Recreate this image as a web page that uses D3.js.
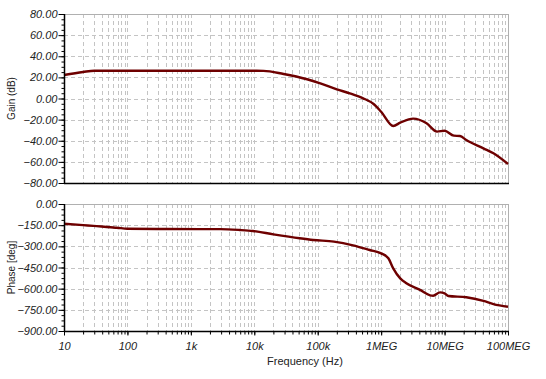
<!DOCTYPE html>
<html>
<head>
<meta charset="utf-8">
<script src="https://cdn.jsdelivr.net/npm/d3@7"></script>
<style>
  body { margin: 0; background: #fff; }
  svg { display: block; }
  .tick text { font-family: "Liberation Sans", Arial, sans-serif; font-style: italic; }
</style>
</head>
<body>
<div id="chart"></div>
<script>
// Bode plot: gain and phase vs frequency

const width = 546;
const height = 379;
const margin = {left: 64, right: 38};
const topPanel = {top: 14, bottom: 183};
const botPanel = {top: 204, bottom: 331};

// gain curve (Hz, dB)
const gainFreq = [10, 20, 30, 14000, 29000, 68000, 110000, 200000, 320000, 520000, 760000,
  1.0e6, 1.55e6, 2.0e6, 3.2e6, 5.2e6, 7.6e6, 1.0e7, 1.4e7, 1.75e7, 2.2e7, 4.1e7, 5.9e7, 1e8];
const gainDb = [22.3, 25.1, 26.3, 26.2, 23.2, 18.2, 14.4, 8.7, 4.9, 0.2, -5.2,
  -12.5, -26, -22.9, -19.1, -23.5, -31.4, -30.5, -35.2, -35.5, -39.3, -47.2, -51.9, -62];

// phase curve (Hz, deg)
const phaseFreq = [10, 20, 29, 54, 68, 100, 420, 1400, 2900, 5900, 9500, 20000, 52000, 85000,
  180000, 360000, 660000, 1.0e6, 1.3e6, 1.55e6, 2.0e6, 2.5e6, 4.1e6, 5.9e6, 6.6e6, 8.5e6,
  1.0e7, 1.15e7, 2.2e7, 4.1e7, 5.9e7, 1e8];
const phaseDeg = [-140, -150, -155, -165, -168, -175, -177, -178, -178, -184, -191, -215, -243, -255,
  -267, -293, -326, -350, -385, -456, -527, -562, -609, -647, -650, -626,
  -633, -652, -661, -687, -709, -728];

// axis ticks
const freqTicks = [10, 100, 1e3, 1e4, 1e5, 1e6, 1e7, 1e8];
const freqLabels = ["10", "100", "1k", "10k", "100k", "1MEG", "10MEG", "100MEG"];
const gainTicks = [80, 60, 40, 20, 0, -20, -40, -60, -80];
const phaseTicks = [0, -150, -300, -450, -600, -750, -900];

const gridColor = "#c4c4c4";
const lineColor = "#6e0000";

const svg = d3.select("#chart").append("svg")
  .attr("width", width)
  .attr("height", height);

svg.append("rect").attr("width", width).attr("height", height).attr("fill", "#fff");

const x = d3.scaleLog()
  .domain([10, 1e8])
  .range([margin.left, width - margin.right]);

// all log grid positions 1..9 per decade
const minorFreqs = [];
for (let dec = 10; dec < 1e8; dec *= 10) {
  for (let k = 1; k < 10; k++) minorFreqs.push(dec * k);
}
minorFreqs.push(1e8);

function panel(p, yDomain, ticks, minorStep, freqs, vals, title, showX) {
  const y = d3.scaleLinear().domain(yDomain).range([p.bottom, p.top]);
  const g = svg.append("g");

  // vertical dashed grid
  g.selectAll(".vgrid").data(minorFreqs).enter().append("line")
    .attr("x1", d => Math.round(x(d)) + 0.5)
    .attr("x2", d => Math.round(x(d)) + 0.5)
    .attr("y1", p.top).attr("y2", p.bottom)
    .attr("stroke", gridColor)
    .attr("stroke-width", 1)
    .attr("stroke-dasharray", "4,3");

  // horizontal dashed grid
  g.selectAll(".hgrid").data(ticks).enter().append("line")
    .attr("x1", x.range()[0]).attr("x2", x.range()[1])
    .attr("y1", d => Math.round(y(d)) + 0.5)
    .attr("y2", d => Math.round(y(d)) + 0.5)
    .attr("stroke", gridColor)
    .attr("stroke-width", 1)
    .attr("stroke-dasharray", "4,3");

  // gray frame on top and right
  g.append("line")
    .attr("x1", x.range()[0]).attr("x2", x.range()[1] + 0.5)
    .attr("y1", p.top + 0.5).attr("y2", p.top + 0.5)
    .attr("stroke", "#b0b0b0");
  g.append("line")
    .attr("x1", x.range()[1] + 0.5).attr("x2", x.range()[1] + 0.5)
    .attr("y1", p.top).attr("y2", p.bottom)
    .attr("stroke", "#b0b0b0");

  // curve
  const pts = freqs.map((f, i) => [f, vals[i]]);
  g.append("path")
    .datum(pts)
    .attr("fill", "none")
    .attr("stroke", lineColor)
    .attr("stroke-width", 2.4)
    .attr("stroke-linejoin", "round")
    .attr("d", d3.line()
      .x(d => x(d[0]))
      .y(d => y(d[1]))
      .curve(d3.curveMonotoneX));

  // y axis: minor ticks then major labelled ticks
  const minorY = d3.range(yDomain[0], yDomain[1] + 0.001, minorStep);
  g.append("g")
    .attr("transform", `translate(${margin.left + 0.5},0)`)
    .call(d3.axisLeft(y).tickValues(minorY).tickSize(3).tickFormat(""))
    .call(a => a.select(".domain").remove())
    .selectAll("line").attr("stroke", "#000");
  const yAxis = g.append("g")
    .attr("transform", `translate(${margin.left + 0.5},0)`)
    .call(d3.axisLeft(y).tickValues(ticks).tickSize(6).tickPadding(1)
      .tickFormat(d => d3.format(".2f")(d)))
    .attr("font-size", "11px");
  yAxis.select(".domain").remove();
  yAxis.selectAll("text").attr("fill", "#222");
  yAxis.selectAll("line").attr("stroke", "#000");

  // black left and bottom axis lines
  g.append("line")
    .attr("x1", margin.left + 0.5).attr("x2", margin.left + 0.5)
    .attr("y1", p.top).attr("y2", p.bottom + 1)
    .attr("stroke", "#000").attr("stroke-width", 1.5);
  g.append("line")
    .attr("x1", margin.left).attr("x2", x.range()[1] + 1)
    .attr("y1", p.bottom + 0.5).attr("y2", p.bottom + 0.5)
    .attr("stroke", "#000").attr("stroke-width", 1.5);

  if (showX) {
    g.append("g")
      .attr("transform", `translate(0,${p.bottom + 0.5})`)
      .call(d3.axisBottom(x).tickValues(minorFreqs).tickSize(3).tickFormat(""))
      .call(a => a.select(".domain").remove())
      .selectAll("line").attr("stroke", "#000");
    const xAxis = g.append("g")
      .attr("transform", `translate(0,${p.bottom + 0.5})`)
      .call(d3.axisBottom(x).tickValues(freqTicks).tickSize(4).tickPadding(7)
        .tickFormat((d, i) => freqLabels[i]))
      .attr("font-size", "11px");
    xAxis.select(".domain").remove();
    xAxis.selectAll("text").attr("fill", "#222");
    xAxis.selectAll("line").attr("stroke", "#000");
  }

  // axis title
  svg.append("text")
    .attr("transform", `translate(15,${(p.top + p.bottom) / 2}) rotate(-90)`)
    .attr("text-anchor", "middle")
    .attr("font-family", "Liberation Sans, Arial, sans-serif")
    .attr("font-size", "10px")
    .attr("fill", "#222")
    .text(title);
}

panel(topPanel, [-80, 80], gainTicks, 5, gainFreq, gainDb, "Gain (dB)", false);
panel(botPanel, [-900, 0], phaseTicks, 37.5, phaseFreq, phaseDeg, "Phase [deg]", true);

svg.append("text")
  .attr("x", 305)
  .attr("y", 365)
  .attr("text-anchor", "middle")
  .attr("font-family", "Liberation Sans, Arial, sans-serif")
  .attr("font-size", "11px")
  .attr("fill", "#222")
  .text("Frequency (Hz)");
</script>
</body>
</html>
